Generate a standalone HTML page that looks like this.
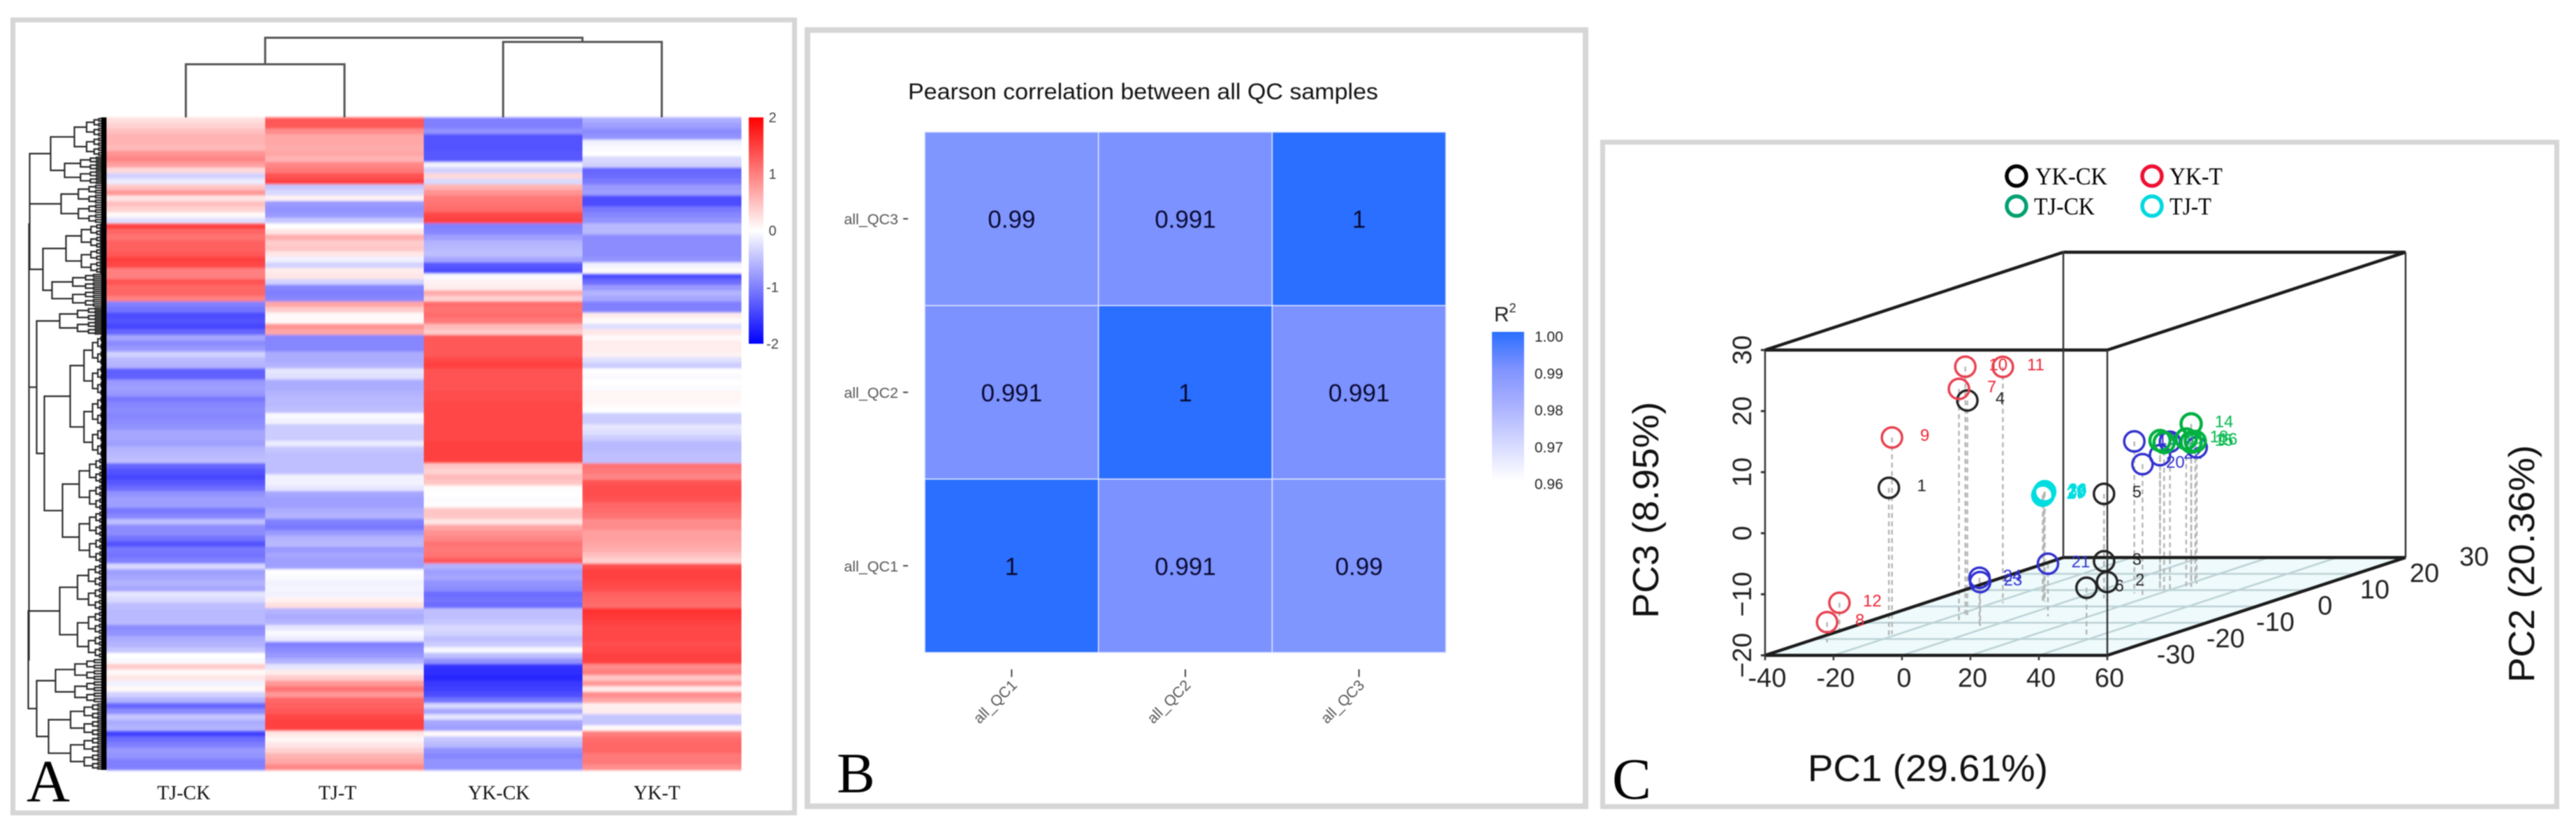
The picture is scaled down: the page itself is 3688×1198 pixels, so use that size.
<!DOCTYPE html>
<html lang="en">
<head>
<meta charset="utf-8">
<title>Heatmap, Pearson correlation and 3D PCA panels</title>
<style>
html,body{margin:0;padding:0;background:#fff;width:3688px;height:1198px;overflow:hidden}
svg{display:block;filter:blur(0.8px)}
text{font-family:"Liberation Sans",sans-serif}
.serif{font-family:"Liberation Serif",serif}
</style>
</head>
<body>
<svg id="fig" xmlns="http://www.w3.org/2000/svg" width="3688" height="1198" viewBox="0 0 3688 1198">
  <defs>
    <linearGradient id="gradA" x1="0" y1="0" x2="0" y2="1">
      <stop offset="0" stop-color="#ff0000"/><stop offset=".5" stop-color="#ffffff"/><stop offset="1" stop-color="#0000ff"/>
    </linearGradient>
    <linearGradient id="gradB" x1="0" y1="0" x2="0" y2="1">
      <stop offset="0" stop-color="#2a6fff"/><stop offset=".25" stop-color="#7f92ff"/><stop offset=".5" stop-color="#aab2ff"/><stop offset="1" stop-color="#ffffff"/>
    </linearGradient>
    <filter id="vblur" x="-2%" y="-2%" width="104%" height="104%"><feGaussianBlur stdDeviation="0 1.6"/></filter>
  </defs>
  <rect x="0" y="0" width="3688" height="1198" fill="#fff"/>

  <rect x="18.5" y="28.5" width="1119" height="1135" fill="#fff" stroke="#d6d6d6" stroke-width="7"/>
  <rect x="1156" y="43" width="1114" height="1111" fill="#fff" stroke="#d6d6d6" stroke-width="8"/>
  <rect x="2294.5" y="203.5" width="1366" height="951" fill="#fff" stroke="#d6d6d6" stroke-width="7"/>

  <g id="panelA"></g>
  <rect x="1072" y="168" width="21" height="324" fill="url(#gradA)"/>
  <text x="38" y="1147" class="serif" font-size="86" fill="#000">A</text>

  <g id="panelB"></g>
  <text x="1300" y="142" font-size="32.5" fill="#111" textLength="673" lengthAdjust="spacingAndGlyphs">Pearson correlation between all QC samples</text>
  <text x="2139" y="460" font-size="30" fill="#222">R<tspan font-size="18" dy="-13">2</tspan></text>
  <rect x="2136" y="475" width="46" height="213" fill="url(#gradB)"/>
  <text x="1198" y="1134" class="serif" font-size="82" fill="#000">B</text>

  <g id="panelC"></g>
  <g>
    <circle cx="2887" cy="252" r="14" fill="none" stroke="#000" stroke-width="5.5"/>
    <text x="2914" y="264" class="serif" font-size="35" textLength="103" lengthAdjust="spacingAndGlyphs">YK-CK</text>
    <circle cx="3081" cy="252" r="14" fill="none" stroke="#ee1133" stroke-width="5.5"/>
    <text x="3106" y="264" class="serif" font-size="35" textLength="76" lengthAdjust="spacingAndGlyphs">YK-T</text>
    <circle cx="2887" cy="295" r="14" fill="none" stroke="#00a070" stroke-width="5.5"/>
    <text x="2912" y="307" class="serif" font-size="35" textLength="87" lengthAdjust="spacingAndGlyphs">TJ-CK</text>
    <circle cx="3081" cy="295" r="14" fill="none" stroke="#00d8e0" stroke-width="5.5"/>
    <text x="3106" y="307" class="serif" font-size="35" textLength="60" lengthAdjust="spacingAndGlyphs">TJ-T</text>
  </g>
  <text transform="translate(2374,885) rotate(-90)" font-size="52" fill="#111" textLength="310" lengthAdjust="spacingAndGlyphs">PC3 (8.95%)</text>
  <text transform="translate(3628,977) rotate(-90)" font-size="52" fill="#111" textLength="340" lengthAdjust="spacingAndGlyphs">PC2 (20.36%)</text>
  <text x="2588" y="1118" font-size="54" fill="#111" textLength="344" lengthAdjust="spacingAndGlyphs">PC1 (29.61%)</text>
  <text x="2308" y="1143" class="serif" font-size="84" fill="#000">C</text>
</svg>

<script>
/* ---------- Panel A data ---------- */
const heatColumns = ["TJ-CK","TJ-T","YK-CK","YK-T"];
const tjCk = [.25,.35,.5,.6,.6,.55,.85,.95,.75,.3,
-.35,-.15,.45,.8,.2,.5,.35,.05,-.25,1.5,
1.2,1.1,1.25,1.25,1.3,1.5,1.45,1.0,1.0,1.35,
1.2,1.2,1.0,-1.0,-1.1,-1.4,-1.35,-1.45,-1.2,-.7,
-.9,-.8,-.35,-.55,-.6,-1.25,-1.25,-.8,-.75,-.8,
-1.05,-.95,-.9,-.95,-.9,-.85,-.7,-.7,-.75,-.6,
-.55,-.5,-1.2,-1.35,-1.45,-1.3,-1.15,-.85,-.75,-.75,
-1.05,-.95,-.5,-.9,-.9,-1.1,-1.35,-1.05,-1.1,-1.0,
-.3,-.75,-.7,-.6,-.7,-.2,-.3,-.5,-.55,-.55,
-.55,-.9,-.85,-.65,-.6,-.45,0,-.05,.4,.05,
.2,-.1,.05,-.35,-.6,-1.2,-.9,-.45,-.65,-.6,
-1.5,-1.15,-1.0,-.8,-.85,-1.0,-1.0];
const tjT = [1.3,1.3,.9,.7,.7,.65,.7,.6,.95,1.05,
1.35,1.5,-.45,-.3,.1,-.8,-.85,-.8,-.45,0,
.2,.65,.4,.45,.2,-.1,-.35,.15,.2,-.35,
-.95,-1.0,-.95,.7,.4,.05,.05,.85,.7,-.95,
-.95,-.95,-.65,-.65,-.6,-.2,-.25,-.65,-.65,-.6,
-.55,-.55,-.5,-.05,-.1,-.4,-.4,-.4,-.15,-.45,
-.5,-.5,-.5,-.5,-.1,-.1,-.2,-.7,-.75,-.75,
-.65,-.6,-1.0,-1.05,-.8,-.6,-.55,-.8,-.7,-.75,
-.75,0,-.05,-.1,-.08,-.1,.1,.25,-.6,-.65,
-.6,-.2,-.05,-.15,-1.0,-.9,-.8,-.6,-.2,.15,
.4,.8,1.1,.8,1.2,1.25,1.3,1.45,1.5,1.5,
.2,.07,.2,.35,.6,.7,.95];
const ykCk = [-1.0,-1.0,-.85,-1.35,-1.35,-1.35,-1.3,-1.3,-.1,-.35,
.3,-.3,.6,.85,1.05,1.1,1.15,1.45,1.5,-1.0,
-.95,-.75,-.6,-.55,-.5,-.7,-1.3,-1.4,-.05,.1,
.15,.65,.35,1.15,1.1,1.15,1.05,.55,.4,1.3,
1.3,1.3,1.3,1.45,1.5,1.35,1.35,1.35,1.35,1.4,
1.4,1.45,1.45,1.45,1.45,1.45,1.45,1.45,1.5,1.5,
1.5,1.5,.45,.35,.55,.45,.02,0,-.02,.02,
.45,.45,.2,.7,.85,.95,1.1,1.05,1.1,1.3,
-.6,-.75,-.7,-.85,-.9,-1.15,-1.1,-1.15,-.5,-.5,
-.45,-.3,-.35,-.5,-.4,-.05,-.5,-.85,-1.6,-1.65,
-1.7,-1.55,-1.5,-1.4,-1.1,-.3,-.7,-.2,-.7,-.75,
.05,-.45,-.55,-.85,-.95,-.85,-.85];
const ykT = [-.65,-.75,-.9,-.85,-.1,-.05,0,-.3,-.35,-1.2,
-1.15,-1.05,-.8,-.75,-1.4,-1.4,-1.05,-.95,-.85,-.55,
-.55,-.9,-.9,-.9,-.9,-.85,-.1,.03,-1.4,-1.15,
-.8,-.6,-.7,-1.0,-1.0,.15,.05,-.25,.2,.05,
.15,.15,.1,-.25,-.4,0,-.05,0,-.03,.08,
.07,.05,0,-.4,-.4,-.2,-.25,-.4,-.55,-.55,
-.5,-.5,1.1,1.05,.95,1.35,1.4,1.4,1.35,1.2,
1.15,1.1,.9,.9,.75,.75,.7,.65,.5,.35,
1.4,1.5,1.5,1.45,1.4,1.25,1.2,1.15,1.6,1.55,
1.5,1.45,1.45,1.45,1.4,1.45,1.5,1.5,.9,1.0,
.45,.8,.15,.9,.7,.12,.15,-.45,-.45,.05,
1.0,1.15,1.2,1.2,1.05,1.05,.9];
const heatValues = [tjCk,tjT,ykCk,ykT];
const colorbarTicks = [2,1,0,-1,-2];
/* row dendrogram: [height, childA, childB]; a two-number child is a leaf row range */
const rowTree = [111,
  [110,
    [110,
      [80,[46,[0,7]],[60,[7,12]]],
      [65,[12,19]]],
    [91,[58,[19,28]],[78,[28,34]]]],
  [111,
    [100,[67,[34,39]],
      [89,[52,[39,61]],[63,[61,80]]]],
    [112,[67,[80,97]],
      [100,[73,[97,105]],[83,[105,117]]]]]];
/* column dendrogram merge heights */
const colTree = {left:[0,1,38],right:[2,3,54],root:57};

/* ---------- Panel B data ---------- */
const qcLabels = ["all_QC1","all_QC2","all_QC3"];
const qcMatrix = [[1,0.991,0.99],[0.991,1,0.991],[0.99,0.991,1]];
const qcLegendTicks = [1.00,0.99,0.98,0.97,0.96];

/* ---------- Panel C data: [PC1, PC2, PC3] ---------- */
const pcaXTicks = [-40,-20,0,20,40,60];
const pcaYTicks = [-30,-20,-10,0,10,20];
const pcaYExtraLabels = [30];
const pcaZTicks = [-20,-10,0,10,20,30];
const ykCkPts = [[-19.8,-29,4.5],[12,-7,-16.8],[-6.3,5,-16.6],[-14.3,-17,15.6],[8.2,-5,-2.9],[39.4,-30,-11.6]];
const ykCkIds = ["1","2","3","4","5","6"];
const ykTPts = [[-12.4,-20,18.3],[-33.5,-32,-16.7],[-21.8,-27,12.2],[-17.8,-15,20.6],[-17,-8,18.7],[-35.7,-28,-14.6]];
const ykTIds = ["7","8","9","10","11","12"];
const tjCkPts = [[17.3,0,4.5],[23.5,2,6.7],[23.5,2,3.7],[21.8,4,3.3],[21.4,-2,4.7],[23.5,1,4.5]];
const tjCkIds = ["13","14","15","16","17","18"];
const extraPts = [[12.7,-2,4.9],[18,-4,1.7],[7.8,-16,-11.4],[17.3,0,2.1],[-3.3,-22,-12.8],[-3.5,-22,-12.1],[20.2,0,4.3],[22.2,4,2.3]];
const extraIds = ["19","20","21","22","23","24","",""];
const tjTPts = [[-6.5,-7,-2.3],[-6.2,-7,-2.0],[-6.8,-7,-2.6],[-6.4,-7,-2.2],[-6.6,-7,-2.5],[-6.3,-7,-2.1]];
const tjTIds = ["25","26","27","28","29","30"];

const SVGNS = "http://www.w3.org/2000/svg";
function mk(tag, attrs, parent, txt){
  const e = document.createElementNS(SVGNS, tag);
  for(const k in attrs) e.setAttribute(k, attrs[k]);
  if(txt !== undefined) e.textContent = txt;
  parent.appendChild(e);
  return e;
}

/* ---------- Panel A ---------- */
const gA = document.getElementById("panelA");
const gCells = mk("g",{filter:"url(#vblur)"},gA);


const heatLeft = 152.5, heatRight = 1061, heatTop = 168, heatBottom = 1102;
const colW = (heatRight-heatLeft)/heatColumns.length;
const rowH = (heatBottom-heatTop)/tjCk.length;
const colX = c => heatLeft + c*colW;
const rowY = r => heatTop + r*rowH;
function divColor(v){
  const t = Math.min(1, Math.abs(v)/2);
  const f = Math.round(255*(1-t));
  return v>=0 ? `rgb(255,${f},${f})` : `rgb(${f},${f},255)`;
}
heatValues.forEach((col,c)=>{
  col.forEach((v,r)=>{
    const cell = mk("rect",{x:colX(c),y:rowY(r),width:colW+.5,height:rowH+.5,fill:divColor(v)},gCells);
    
    
  });
});
heatColumns.forEach((name,c)=>{
  const lab = mk("text",{x:colX(c)+colW/2-(c===0?3:c===1?10:c===2?6:7),y:1144,"text-anchor":"middle","font-size":28,class:"serif",fill:"#111"},gA,name);
  
  
});
colorbarTicks.forEach(v=>{
  const y = 330-(v/2)*162;
  const t = mk("text",{x:1106,y:y+7,"text-anchor":"middle","font-size":20,fill:"#444"},gA,String(v));
  
  
});
/* column dendrogram */
const colLeaf = c => colX(c)+colW/2;
const colHeightY = h => heatTop - h*2;
const cl = colTree.left, cr = colTree.right;
const lMid = (colLeaf(cl[0])+colLeaf(cl[1]))/2, rMid = (colLeaf(cr[0])+colLeaf(cr[1]))/2;
const colPathD = `M${colLeaf(cl[0])} ${heatTop}V${colHeightY(cl[2])}H${colLeaf(cl[1])}V${heatTop}`+
  `M${colLeaf(cr[0])} ${heatTop}V${colHeightY(cr[2])}H${colLeaf(cr[1])}V${heatTop}`+
  `M${lMid} ${colHeightY(cl[2])}V${colHeightY(colTree.root)}H${rMid}V${colHeightY(cr[2])}`;
const colPath = mk("path",{d:colPathD,fill:"none",stroke:"#555","stroke-width":3},gA);


/* row dendrogram */
const dendX = h => heatLeft - h;
let rowD = "";
function expandRange(lo,hi,h){
  if(hi-lo<=0.5 || h<6){
    const y = rowY((lo+hi)/2);
    rowD += `M${dendX(h)} ${y}H${heatLeft}`;
    return y;
  }
  const mid = (lo+hi)/2;
  const ya = expandRange(lo,mid,h*0.62);
  const yb = expandRange(mid,hi,h*0.62);
  rowD += `M${dendX(h*0.62)} ${ya}H${dendX(h)}V${yb}H${dendX(h*0.62)}`;
  return (ya+yb)/2;
}
function walk(node){
  const h = node[0];
  if(node.length===2 && Array.isArray(node[1])){
    return {y:expandRange(node[1][0],node[1][1],h),h:h};
  }
  const a = walk(node[1]), b = walk(node[2]);
  rowD += `M${dendX(a.h)} ${a.y}H${dendX(h)}V${b.y}H${dendX(b.h)}`;
  return {y:(a.y+b.y)/2,h:h};
}
walk(rowTree);
const rowPath = mk("path",{d:rowD,fill:"none",stroke:"#2a2a2a","stroke-width":2.2},gA);


const leafStrip = mk("rect",{x:145,y:heatTop,width:7.5,height:heatBottom-heatTop,fill:"#000"},gA);



/* ---------- Panel B ---------- */
const gB = document.getElementById("panelB");
const bL = 1324, bR = 2070, bT = 189, bB = 934;
const bandW = (bR-bL)/qcLabels.length, bandH = (bB-bT)/qcLabels.length;
const qcX = i => bL + i*bandW;
const qcY = i => bB - (i+1)*bandH;
function qcColor(v){
  if(v>=0.991){ const t=(v-0.991)/0.009; return `rgb(${Math.round(124-82*t)},${Math.round(146-35*t)},255)`; }
  const t=(0.991-v)/0.031;
  return `rgb(${Math.round(124+131*t)},${Math.round(146+109*t)},255)`;
}
qcMatrix.forEach((row,r)=>{
  row.forEach((v,c)=>{
    const cell = mk("rect",{x:qcX(c),y:qcY(r),width:bandW,height:bandH,fill:qcColor(v),stroke:"#dfe6ff","stroke-width":1.5},gB);
    
    
    const t = mk("text",{x:qcX(c)+bandW/2,y:qcY(r)+bandH/2+13,"text-anchor":"middle","font-size":35,fill:"#0a0a30"},gB,String(v));
    
    
  });
});
qcLabels.forEach((name,i)=>{
  const y = qcY(i)+bandH/2;
  const yl = mk("text",{x:1286,y:y+8,"text-anchor":"end","font-size":21.5,fill:"#555"},gB,name);
  
  
  const yt = mk("line",{x1:1293,x2:1300,y1:y,y2:y,stroke:"#444","stroke-width":2},gB);
  
  
  const x = qcX(i)+bandW/2;
  const xt = mk("line",{x1:x,x2:x,y1:958,y2:969,stroke:"#444","stroke-width":2},gB);
  
  
  const xl = mk("text",{transform:`translate(${x+9},982) rotate(-45)`,"text-anchor":"end","font-size":21.5,fill:"#555"},gB,name);
  
  
});
const legY = v => 481 + (1-v)/0.04*211;
qcLegendTicks.forEach(v=>{
  const y = legY(v);
  const t = mk("text",{x:2197,y:y+8,"font-size":21,fill:"#222"},gB,v.toFixed(2));
  
  
  if(v>0.96){
    const a = mk("line",{x1:2136,x2:2145,y1:y,y2:y,stroke:"#fff","stroke-width":1.5},gB);
    
    
    const b = mk("line",{x1:2173,x2:2182,y1:y,y2:y,stroke:"#fff","stroke-width":1.5},gB);
    
    
  }
});

/* ---------- Panel C ---------- */
const gC = document.getElementById("panelC");
const sx = (pc1,pc2) => 2527 + (pc1+40)/100*490 + (pc2+40)/60*427;
const sy = (pc2,pc3) => 938 - (pc3+20)/50*437 - (pc2+40)/60*140;
const P = (a,b,c) => `${sx(a,b)},${sy(b,c)}`;
const floor = mk("polygon",{points:[P(-40,-40,-20),P(60,-40,-20),P(60,20,-20),P(-40,20,-20)].join(" "),fill:"#eefafb"},gC);


pcaYTicks.forEach(v=>{
  const l = mk("line",{x1:sx(-40,v),y1:sy(v,-20),x2:sx(60,v),y2:sy(v,-20),stroke:"#bcd2d6","stroke-width":2.5},gC);
  
  
});
pcaXTicks.slice(1,5).forEach(v=>{
  const l = mk("line",{x1:sx(v,-40),y1:sy(-40,-20),x2:sx(v,20),y2:sy(20,-20),stroke:"#bcd2d6","stroke-width":2.5},gC);
  
  
});
const groups = [
  {pts:ykCkPts,ids:ykCkIds,color:"#222222",labelColor:"#222222",sw:3.5,name:"yk-ck"},
  {pts:ykTPts,ids:ykTIds,color:"#e8404f",labelColor:"#ee2233",sw:3.5,name:"yk-t"},
  {pts:extraPts,ids:extraIds,color:"#3030d0",labelColor:"#3030d0",sw:3.5,name:"blue-group"},
  {pts:tjCkPts,ids:tjCkIds,color:"#00b040",labelColor:"#00b84a",sw:4.5,name:"tj-ck"},
  {pts:tjTPts,ids:tjTIds,color:"#00dde0",labelColor:"#00dde0",sw:4.5,name:"tj-t"}
];
groups.forEach(g=>{
  g.pts.forEach(p=>{
    const d = mk("line",{x1:sx(p[0],p[1]),y1:sy(p[1],p[2]),x2:sx(p[0],p[1]),y2:sy(p[1],-20),stroke:"#b5b5b5","stroke-width":2.5,"stroke-dasharray":"7 5"},gC);
    
    
  });
});
const boxThick = [
  [[-40,-40,30],[60,-40,30]],[[-40,20,30],[60,20,30]],
  [[-40,-40,30],[-40,20,30]],[[60,-40,30],[60,20,30]],
  [[-40,-40,-20],[60,-40,-20]],[[-40,20,-20],[60,20,-20]],
  [[-40,-40,-20],[-40,20,-20]],[[60,-40,-20],[60,20,-20]]
];
boxThick.forEach(s=>{
  const l = mk("line",{x1:sx(s[0][0],s[0][1]),y1:sy(s[0][1],s[0][2]),x2:sx(s[1][0],s[1][1]),y2:sy(s[1][1],s[1][2]),stroke:"#1c1c1c","stroke-width":4.5},gC);
  
  
});
const boxThin = [[-40,-40],[60,-40],[-40,20],[60,20]];
boxThin.forEach(c=>{
  const l = mk("line",{x1:sx(c[0],c[1]),y1:sy(c[1],30),x2:sx(c[0],c[1]),y2:sy(c[1],-20),stroke:"#333","stroke-width":2.5},gC);
  
  
});
pcaXTicks.forEach(v=>{
  const tk = mk("line",{x1:sx(v,-40),y1:938,x2:sx(v,-40),y2:945,stroke:"#333","stroke-width":2.5},gC);
  
  
  const t = mk("text",{x:sx(v,-40)+3,y:983,"text-anchor":"middle","font-size":38,fill:"#222"},gC,String(v));
  
  
});
pcaYTicks.concat(pcaYExtraLabels).forEach(v=>{
  const t = mk("text",{x:sx(60,v)+27,y:sy(v,-20)+35,"text-anchor":"middle","font-size":38,fill:"#222"},gC,String(v));
  
  
});
pcaZTicks.forEach(v=>{
  const y = sy(-40,v);
  const tk = mk("line",{x1:2521,x2:2527,y1:y,y2:y,stroke:"#333","stroke-width":3},gC);
  
  
  const t = mk("text",{transform:`translate(2507,${y}) rotate(-90)`,"text-anchor":"middle","font-size":38,fill:"#222"},gC,v<0?"\u2212"+Math.abs(v):String(v));
  
  
});
groups.forEach(g=>{
  g.pts.forEach((p,i)=>{
    const x = sx(p[0],p[1]), y = sy(p[1],p[2]);
    const c = mk("circle",{cx:x,cy:y,r:14.5,fill:"none",stroke:g.color,"stroke-width":g.sw},gC);
    
    
    if(g.ids[i]){
      const t = mk("text",{x:x+47,y:y+5,"text-anchor":"middle","font-size":24,fill:g.labelColor},gC,g.ids[i]);
      
      
    }
  });
});
</script>
</body>
</html>
